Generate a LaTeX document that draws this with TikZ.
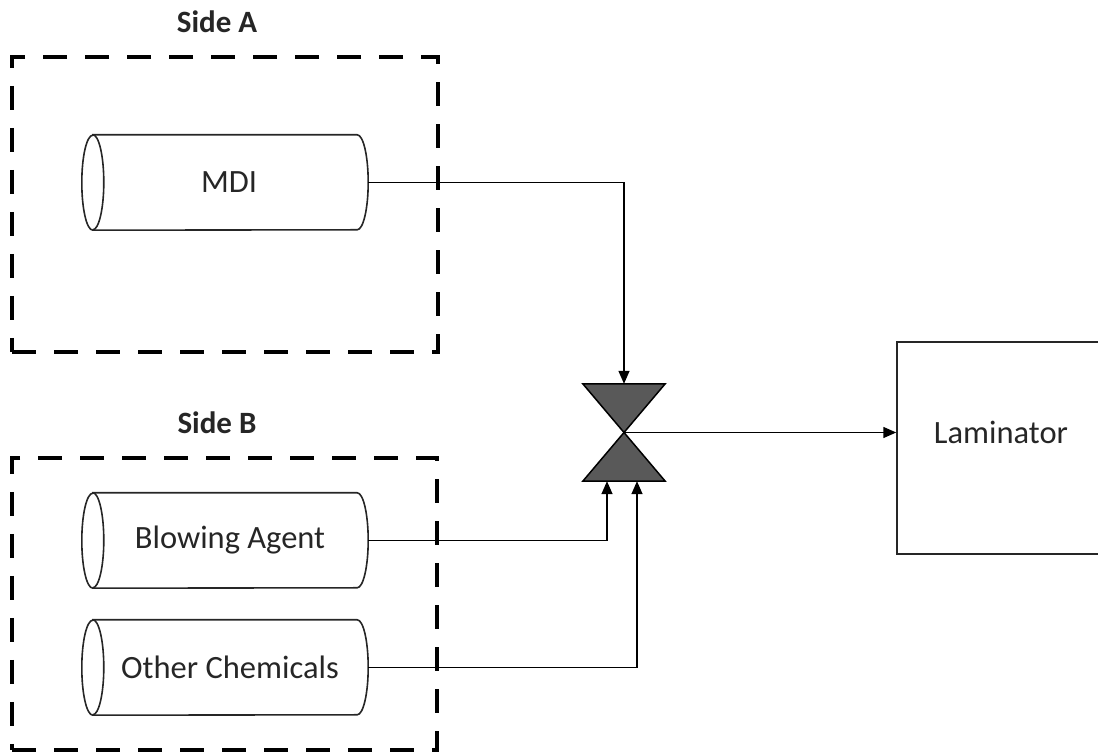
\documentclass[tikz,border=0pt]{standalone}
\usepackage{fontspec}
\setmainfont{Carlito}
\usetikzlibrary{arrows.meta,calc}
\newcommand\tankdraw[1]{%
  \draw[tankline] ($(#1.north west)+(11,0)$) -- ($(#1.north east)+(-11,0)$)
     arc[start angle=90, end angle=-90, x radius=11pt, y radius=47.5pt]
     -- ($(#1.south west)+(11,0)$)
     arc[start angle=270, end angle=90, x radius=11pt, y radius=47.5pt] -- cycle;
  \draw[tankline] ($(#1.north west)+(11,0)$)
     arc[start angle=90, end angle=-90, x radius=11pt, y radius=47.5pt];}
\begin{document}
\begin{tikzpicture}[x=1pt,y=1pt,
  every node/.style={font=\fontsize{32.5}{38}\selectfont, text=black!85},
  groupbox/.style={draw=black, line width=4.5pt, dash pattern=on 24pt off 18pt, minimum width=#1, minimum height=295pt, inner sep=0pt},
  grouplabel/.style={font=\bfseries\fontsize{31}{37}\selectfont},
  tank/.style={minimum width=286pt, minimum height=95pt, inner sep=0pt},
  tankline/.style={draw=black!85, line width=1.6pt},
  flow/.style={draw=black, line width=1.5pt},
  tip/.style={-{Triangle[length=13pt,width=11pt]}},
  valveshape/.style={minimum width=82pt, minimum height=97pt, inner sep=0pt},
  valvefill/.style={draw=black, line width=1.5pt, fill=black!65, line join=miter},
  unit/.style={draw=black!85, line width=1.5pt, minimum width=208pt, minimum height=212pt, inner sep=0pt}
]
\useasboundingbox (0,0) rectangle (1098,754);
\clip (0,0) rectangle (1098,754);
% group boxes
\node[groupbox=426pt] (boxA) at (225,549.5) {};
\node[groupbox=425pt, minimum height=292pt] (boxB) at (224.5,150) {};
\node[grouplabel] (labA) at (217,732) {Side A};
\node[grouplabel] (labB) at (217,331) {Side B};
% tanks
\node[tank] (mdi) at (225,571.5) {\hspace*{8pt}MDI};
\node[tank] (blow) at (225,213.5) {\hspace*{10pt}Blowing Agent};
\node[tank] (other) at (225,86.5) {\hspace*{10pt}Other Chemicals};
\tankdraw{mdi}
\tankdraw{blow}
\tankdraw{other}
% valve
\node[valveshape] (valve) at (624,321.5) {};
\draw[valvefill] (valve.north west) -- (valve.north east) -- (valve.center) -- cycle;
\draw[valvefill] (valve.south west) -- (valve.south east) -- (valve.center) -- cycle;
% laminator
\node[unit] (lam) at (1001,306) {};
\node (lamtext) at (1001,322) {Laminator};
% connectors
\draw[flow,tip] (mdi.east) -| (valve.north);
\draw[flow,tip] (blow.east) -| ($(valve.south)+(-17,0)$);
\draw[flow,tip] (other.east) -| ($(valve.south)+(13,0)$);
\draw[flow,tip] (valve.center) -- (valve.center -| lam.west);
\end{tikzpicture}
\end{document}
